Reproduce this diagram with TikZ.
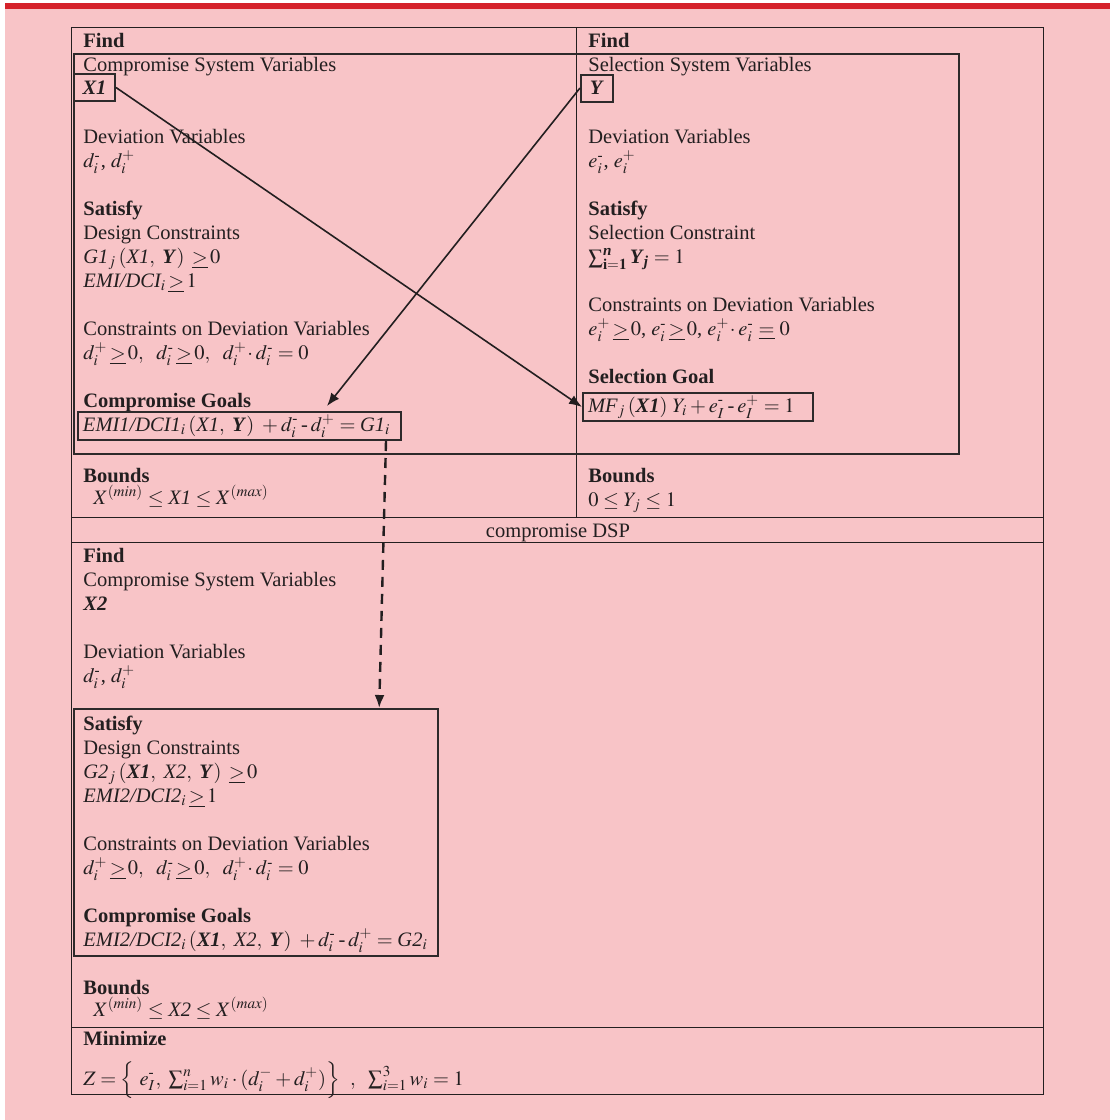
\documentclass[tikz,border=0pt]{standalone}
\usepackage{amsmath}
\usepackage{mathptmx}
\usepackage{fontspec}
\setmainfont{Liberation Serif}
\usetikzlibrary{arrows.meta}
\definecolor{pagepink}{RGB}{248,196,199}
\definecolor{barred}{RGB}{213,34,43}
\definecolor{inkgray}{RGB}{35,31,32}
\definecolor{boxgray}{RGB}{45,42,43}
\newcommand{\bitx}[1]{\textbf{\textit{#1}}}
\newcommand{\mainsize}{\fontsize{10.25pt}{12pt}\selectfont}
\newcommand{\geu}{\,\underline{>}\,}
\newcommand{\hy}{\text{-}}
\newcommand{\hyop}{\mathbin{\text{-}}}

\begin{document}
\begin{tikzpicture}[
    x=0.5pt, y=-0.5pt,
    txt/.style={anchor=base west, inner sep=0pt, text=inkgray, font=\mainsize},
    head/.style={txt, font=\mainsize\bfseries},
    varbox/.style={draw=boxgray, line width=1pt, inner sep=0pt, minimum width=#1, minimum height=13.5pt, text=inkgray, font=\mainsize},
    goalbox/.style={draw=boxgray, line width=1pt, anchor=north west, inner xsep=2.5pt, inner ysep=0pt, minimum height=14pt, text=inkgray, font=\mainsize},
    bigbox/.style={draw=boxgray, line width=1.1pt, anchor=north west, inner sep=0pt},
    grid/.style={draw=inkgray, line width=0.45pt},
    arrow/.style={-{Latex[length=6.5pt, width=5pt]}, line width=0.8pt, draw=inkgray},
    dasharrow/.style={arrow, line width=1.2pt, dash pattern=on 5pt off 3.5pt}
]
\useasboundingbox (0,0) rectangle (1112,1120);
\fill[pagepink] (5,9) rectangle (1110,1120);
\fill[barred] (5,3) rectangle (1110,9);

% Table rules
\draw[grid] (71,27) rectangle (1043,1094);
\draw[grid] (576,27) -- (576,517);
\draw[grid] (71,517) -- (1043,517);
\draw[grid] (71,542) -- (1043,542);
\draw[grid] (71,1027) -- (1043,1027);

% Thick frames
\node[bigbox, minimum width=442.5pt, minimum height=200pt] (coupled) at (73,53) {};
\node[bigbox, minimum width=182pt, minimum height=123.5pt] (satbox) at (73,708) {};

% Left column: compromise DSP of X1
\node[head] (find1) at (83,47.5) {Find};
\node[txt] (csv1) at (83,71.5) {Compromise System Variables};
\node[varbox=20.5pt] (x1box) at (94.5,87.5) {\bitx{X1}};
\node[txt] (dev1) at (83,143.5) {Deviation Variables};
\node[txt] (dvar1) at (83,167.5) {$d_i^{\hy}$, $d_i^+$};
\node[head] (sat1) at (83,215.5) {Satisfy};
\node[txt] (dcon1) at (83,239.5) {Design Constraints};
\node[txt] (gcon1) at (83,263.5) {$\textit{G1}_j\,(\textit{X1},\ \bitx{Y})\ \geu 0$};
\node[txt] (emi1) at (83,287.5) {$\textit{EMI/DCI}_i\geu 1$};
\node[txt] (cdv1) at (83,335.5) {Constraints on Deviation Variables};
\node[txt] (dcond1) at (83,359.5) {$d_i^+\geu 0,\ \ d_i^{\hy}\geu 0,\ \ d_i^+\!\cdot d_i^{\hy} = 0$};
\node[head] (cgoal1) at (83,407.5) {Compromise Goals};
\node[goalbox] (goal1box) at (77,411) {\makebox[156.5pt][l]{$\textit{EMI1/DCI1}_i\,(\textit{X1},\ \bitx{Y})\ + d_i^{\hy} \hyop d_i^+ = \textit{G1}_i$}};
\node[head] (bnd1) at (83,482) {Bounds};
\node[txt] (bval1) at (93,504) {$X^{(min)}\le \textit{X1} \le X^{(max)}$};

% Right column: selection DSP of Y
\node[head] (find2) at (588,47.5) {Find};
\node[txt] (ssv) at (588,71.5) {Selection System Variables};
\node[varbox=16pt] (ybox) at (597,88) {\bitx{Y}};
\node[txt] (dev2) at (588,143.5) {Deviation Variables};
\node[txt] (evar) at (588,167.5) {$e_i^{\hy}$, $e_i^+$};
\node[head] (sat2) at (588,215.5) {Satisfy};
\node[txt] (scon) at (588,239.5) {Selection Constraint};
\node[txt] (ysum) at (588,263.5) {$\sum_{\mathbf{i=1}}^{\bitx{n}}\bitx{Y}_{\bitx{j}} = 1$};
\node[txt] (cdv2) at (588,311.5) {Constraints on Deviation Variables};
\node[txt] (econd) at (588,335.5) {$e_i^+\geu 0$, $e_i^{\hy}\geu 0$, $e_i^+\!\cdot e_i^{\hy}\ \underline{=}\ 0$};
\node[head] (sgoal) at (588,383.5) {Selection Goal};
\node[goalbox] (mfbox) at (582,392) {\makebox[110pt][l]{$\textit{MF}_j\,(\bitx{X1})\ Y_i + e_I^{\hy} \hyop e_I^+ = 1$}};
\node[head] (bnd2) at (588,482) {Bounds};
\node[txt] (bval2) at (588,506) {$0\le Y_j\le 1$};

\node[txt, anchor=base] (dsp) at (558,537) {compromise DSP};

% Lower part: compromise DSP of X2
\node[head] (find3) at (83,562.5) {Find};
\node[txt] (csv3) at (83,586.5) {Compromise System Variables};
\node[txt] (x2) at (83,610.5) {\bitx{X2}};
\node[txt] (dev3) at (83,658.5) {Deviation Variables};
\node[txt] (dvar3) at (83,682.5) {$d_i^{\hy}$, $d_i^+$};
\node[head] (sat3) at (83,730.5) {Satisfy};
\node[txt] (dcon3) at (83,754.5) {Design Constraints};
\node[txt] (gcon2) at (83,778.5) {$\textit{G2}_j\,(\bitx{X1},\ \textit{X2},\ \bitx{Y})\ \geu 0$};
\node[txt] (emi2) at (83,802.5) {$\textit{EMI2/DCI2}_i\geu 1$};
\node[txt] (cdv3) at (83,850.5) {Constraints on Deviation Variables};
\node[txt] (dcond3) at (83,874.5) {$d_i^+\geu 0,\ \ d_i^{\hy}\geu 0,\ \ d_i^+\!\cdot d_i^{\hy} = 0$};
\node[head] (cgoal3) at (83,922) {Compromise Goals};
\node[txt] (goal3) at (83,946) {$\textit{EMI2/DCI2}_i\,(\bitx{X1},\ \textit{X2},\ \bitx{Y})\ + d_i^{\hy} \hyop d_i^+ = \textit{G2}_i$};
\node[head] (bnd3) at (83,994) {Bounds};
\node[txt] (bval3) at (93,1016) {$X^{(min)}\le \textit{X2} \le X^{(max)}$};
\node[head] (mini) at (83,1045) {Minimize};
\node[txt] (zfun) at (83,1085) {$Z = \Big\{\ e_I^{\hy},\ \sum_{i=1}^{n} w_i\cdot(d_i^- + d_i^+)\Big\}\ \ ,\ \ \sum_{i=1}^{3} w_i = 1$};

% Links between the DSPs
\draw[arrow] (x1box.east) -- (mfbox.west);
\draw[arrow] (ybox.west) -- ([xshift=-37.5pt, yshift=2.5pt]goal1box.north east);
\draw[dasharrow] ([xshift=-8pt]goal1box.south east) -- ([xshift=-30pt]satbox.north east);

\end{tikzpicture}
\end{document}
